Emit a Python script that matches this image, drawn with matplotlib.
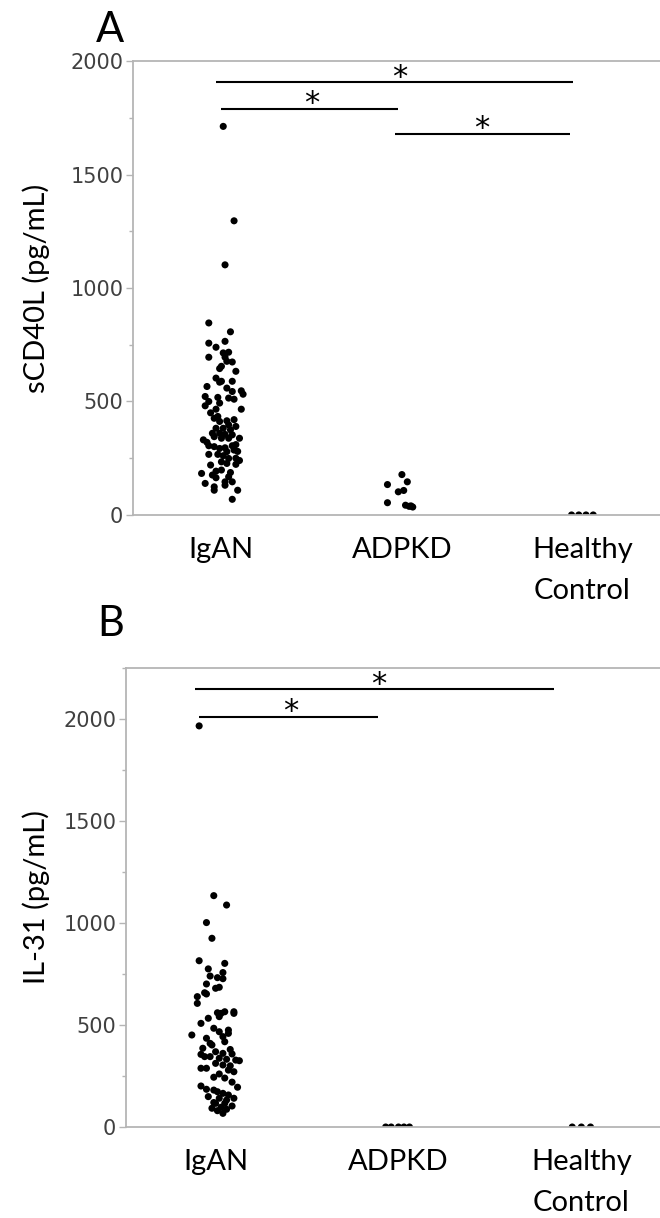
import numpy as np
import matplotlib
matplotlib.use("Agg")
import matplotlib.pyplot as plt
from matplotlib.ticker import MultipleLocator

groups = ["IgAN", "ADPKD", "Healthy\nControl"]

# panel A: sCD40L (pg/mL), horizontal jitter in group units
a_igan_val = [1712, 1296, 1102, 846, 807, 757, 765, 739, 695, 714, 717, 695, 674, 655, 677,
              645, 633, 603, 589, 585, 589, 559, 544, 515, 510, 547, 532, 566, 522, 500, 481,
              518, 493, 466, 466, 426, 434, 412, 415, 397, 382, 382, 360, 360, 355, 375, 353,
              345, 338, 338, 338, 331, 305, 301, 293, 296, 305, 286, 279, 267, 267, 261, 249,
              223, 227, 234, 220, 183, 193, 198, 187, 176, 168, 146, 139, 164, 146, 124, 131,
              109, 109, 69, 310, 320, 250, 420, 450, 280, 240, 390]
a_igan_dx = [0.01, 0.07, 0.02, -0.07, 0.05, -0.07, 0.02, -0.03, -0.07, 0.01, 0.04, 0.02, 0.06,
             0.0, 0.03, -0.01, 0.08, -0.03, 0.0, -0.01, 0.06, 0.03, 0.06, 0.04, 0.07, 0.11,
             0.12, -0.08, -0.09, -0.07, -0.09, -0.02, -0.01, -0.03, 0.11, -0.04, -0.02, -0.01,
             0.03, 0.04, -0.03, 0.01, -0.05, -0.01, 0.02, 0.05, 0.06, -0.04, 0.0, 0.04, 0.1,
             -0.1, -0.07, -0.04, -0.01, 0.02, 0.06, 0.07, 0.03, -0.07, -0.02, 0.01, 0.04, 0.08,
             0.03, 0.0, -0.06, -0.11, -0.03, 0.0, 0.05, -0.05, 0.04, 0.06, -0.09, -0.03, 0.02,
             -0.04, 0.02, -0.04, 0.09, 0.06, 0.08, -0.08, 0.08, 0.07, -0.06, 0.09, 0.1, 0.08]
a_adpkd_val = [178, 134, 146, 102, 108, 54, 43, 40, 35, 38]
a_adpkd_dx = [0.0, -0.08, 0.03, -0.02, 0.01, -0.08, 0.02, 0.05, 0.06, 0.04]
a_hc_val = [0, 0, 0, 0]
a_hc_dx = [-0.06, -0.02, 0.02, 0.06]

# panel B: IL-31 (pg/mL)
b_igan_val = [1966, 1134, 1088, 1002, 925, 815, 802, 775, 757, 740, 732, 727, 701, 680, 685,
              658, 652, 639, 606, 560, 557, 565, 565, 557, 541, 533, 508, 484, 451, 435, 467,
              475, 459, 443, 418, 386, 402, 369, 361, 358, 325, 356, 345, 337, 332, 328, 288,
              288, 312, 304, 279, 244, 240, 271, 201, 185, 181, 173, 165, 157, 195, 149, 141,
              132, 141, 92, 97, 67, 87, 103, 116, 116, 300, 345, 260, 220, 380, 120, 80, 410]
b_igan_dx = [-0.09, -0.01, 0.06, -0.05, -0.02, -0.09, 0.05, -0.04, 0.04, -0.03, 0.01, 0.04,
             -0.05, 0.0, 0.02, -0.06, -0.05, -0.1, -0.1, 0.01, 0.03, 0.05, 0.1, 0.1, 0.02,
             -0.04, -0.08, -0.01, -0.13, -0.05, 0.02, 0.07, 0.07, 0.04, 0.05, -0.07, -0.02,
             0.0, 0.04, 0.09, 0.13, -0.08, -0.03, 0.02, 0.06, 0.11, -0.08, -0.05, 0.0, 0.04,
             0.07, -0.01, 0.05, 0.1, -0.08, -0.05, -0.01, 0.01, 0.04, 0.07, 0.12, -0.04, 0.02,
             0.06, 0.1, -0.02, 0.03, 0.04, 0.06, 0.09, 0.0, 0.05, 0.08, -0.06, 0.02, 0.09,
             0.08, -0.01, 0.01, -0.03]
b_adpkd_val = [0, 0, 0, 0, 0]
b_adpkd_dx = [-0.07, -0.04, 0.0, 0.03, 0.06]
b_hc_val = [0, 0, 0]
b_hc_dx = [-0.05, 0.0, 0.05]

# significance bars: (start, end, height, star x, star centre y)
a_bars = [(-0.03, 1.95, 1907, 0.99, 1951), (0.0, 0.98, 1788, 0.5, 1836), (0.96, 1.93, 1677, 1.44, 1725)]
b_bars = [(-0.11, 1.85, 2147, 0.89, 2196), (-0.09, 0.89, 2010, 0.41, 2064)]

LABEL_FONT = ["Lato", "DejaVu Sans"]
STAR_SIZE = 22


def setup_axes(ax, ylabel, ymax, ylabel_x):
    ax.set_xlim(-0.49, 2.43)
    ax.set_ylim(0, ymax)
    ax.yaxis.set_major_locator(MultipleLocator(500))
    ax.yaxis.set_minor_locator(MultipleLocator(250))
    for side in ["left", "top", "bottom"]:
        ax.spines[side].set_color("#b5b5b5")
        ax.spines[side].set_linewidth(1.3)
        ax.spines[side].set_zorder(5)
    ax.spines["right"].set_visible(False)
    ax.tick_params(axis="y", which="major", length=5, width=1, color="#b5b5b5",
                   labelsize=15, labelcolor="#404040", pad=2)
    ax.tick_params(axis="y", which="minor", length=3, width=1, color="#b5b5b5")
    ax.set_xticks(range(len(groups)))
    ax.set_xticklabels(groups, fontsize=21, family=LABEL_FONT, linespacing=1.7)
    ax.tick_params(axis="x", length=0, pad=16)
    ax.set_ylabel(ylabel, fontsize=21, family=LABEL_FONT)
    ax.yaxis.set_label_coords(ylabel_x, 0.5)


def draw_points(ax, sets):
    for gi, (vals, dx) in enumerate(sets):
        xs = gi + np.array(dx)
        ax.scatter(xs, vals, s=26, color="black", edgecolors="none", zorder=3)


def draw_bars(ax, bars):
    for x0, x1, h, sx, sy in bars:
        ax.plot([x0, x1], [h, h], color="black", lw=1.5, solid_capstyle="butt")
        # asterisk glyph sits a bit above the baseline, pull it down to its centre
        ax.annotate("*", xy=(sx, sy), xytext=(0, -0.45 * STAR_SIZE), textcoords="offset points",
                    ha="center", va="baseline", fontsize=STAR_SIZE, family="DejaVu Sans")


fig = plt.figure(figsize=(6.6, 12.18), dpi=100)
ax_a = fig.add_axes([0.2015, 0.5772, 0.7985, 0.3727])
ax_b = fig.add_axes([0.1909, 0.0747, 0.8091, 0.3769])

draw_points(ax_a, [(a_igan_val, a_igan_dx), (a_adpkd_val, a_adpkd_dx), (a_hc_val, a_hc_dx)])
draw_bars(ax_a, a_bars)
setup_axes(ax_a, "sCD40L (pg/mL)", 2000, -0.157)

draw_points(ax_b, [(b_igan_val, b_igan_dx), (b_adpkd_val, b_adpkd_dx), (b_hc_val, b_hc_dx)])
draw_bars(ax_b, b_bars)
setup_axes(ax_b, "IL-31 (pg/mL)", 2250, -0.143)

fig.text(0.167, 0.975, "A", fontsize=30, family=LABEL_FONT, ha="center", va="center")
fig.text(0.167, 0.488, "B", fontsize=30, family=LABEL_FONT, ha="center", va="center")

fig.savefig("out.png", dpi=100)
